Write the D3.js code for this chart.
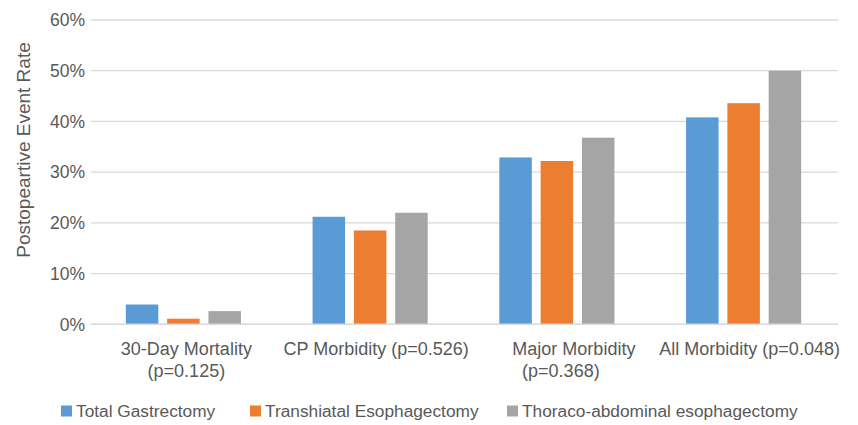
<!DOCTYPE html>
<html>
<head>
<meta charset="utf-8">
<script src="https://cdn.jsdelivr.net/npm/d3@7"></script>
<style>
  html, body { margin: 0; padding: 0; background: #fff; }
  svg { display: block; font-family: "Liberation Sans", Arial, sans-serif; }
</style>
</head>
<body>
<svg id="chart" width="858" height="425"></svg>
<script>
// ---- data ----
const categories = ["30-Day Mortality (p=0.125)", "CP Morbidity (p=0.526)", "Major Morbidity (p=0.368)", "All Morbidity (p=0.048)"];
const categoryLines = [["30-Day Mortality", "(p=0.125)"], ["CP Morbidity (p=0.526)"], ["Major Morbidity", "(p=0.368)"], ["All Morbidity (p=0.048)"]];
const seriesNames = ["Total Gastrectomy", "Transhiatal Esophagectomy", "Thoraco-abdominal esophagectomy"];
const totalGastrectomy = [3.9, 21.2, 32.9, 40.8];
const transhiatal = [1.1, 18.5, 32.2, 43.6];
const thoracoAbdominal = [2.6, 22.0, 36.8, 50.0];
const yTicks = [0, 10, 20, 30, 40, 50, 60];
const yTickLabels = ["0%", "10%", "20%", "30%", "40%", "50%", "60%"];
const yTitle = "Postopeartive Event Rate";

// ---- layout ----
const colors = ["#5b9bd5", "#ed7d31", "#a5a5a5"];
const textColor = "#595959";
const gridColor = "#d9d9d9";
const plot = { left: 91, right: 838, top: 20, bottom: 324.3 };
const labelNudge = [[2, 2], [5], [16, 3], [5]];

const svg = d3.select("#chart");
const seriesValues = [totalGastrectomy, transhiatal, thoracoAbdominal];

const x = d3.scaleBand().domain(categories).range([plot.left, plot.right]).padding(0);
const y = d3.scaleLinear().domain([0, 60]).range([plot.bottom, plot.top]);
const innerW = 115.1;
const xi = d3.scaleBand().domain(seriesNames).range([0, innerW]).paddingInner(0.213).paddingOuter(0);

// gridlines
svg.append("g").selectAll("line").data(yTicks).join("line")
  .attr("x1", plot.left).attr("x2", plot.right)
  .attr("y1", d => y(d)).attr("y2", d => y(d))
  .attr("stroke", gridColor).attr("stroke-width", 1.3);

// y tick labels
svg.append("g").selectAll("text").data(yTicks).join("text")
  .attr("x", 85).attr("y", d => y(d)).attr("dy", "0.36em")
  .attr("text-anchor", "end").attr("fill", textColor)
  .style("font-size", "17.5px")
  .text((d, i) => yTickLabels[i]);

// y title
svg.append("text")
  .attr("transform", `translate(30,150) rotate(-90)`)
  .attr("text-anchor", "middle").attr("fill", textColor)
  .style("font-size", "19px")
  .text(yTitle);

// bars
const groups = svg.append("g").selectAll("g").data(categories).join("g")
  .attr("transform", c => `translate(${x(c) + x.bandwidth() / 2 - innerW / 2 - 1},0)`);
groups.selectAll("rect").data((c, ci) => seriesNames.map((s, si) => ({ s, si, v: seriesValues[si][ci] })))
  .join("rect")
  .attr("x", d => xi(d.s)).attr("width", xi.bandwidth())
  .attr("y", d => y(d.v)).attr("height", d => y(0) - y(d.v))
  .attr("fill", d => colors[d.si]);

// baseline on top
svg.append("line").attr("x1", plot.left).attr("x2", plot.right)
  .attr("y1", y(0)).attr("y2", y(0)).attr("stroke", gridColor).attr("stroke-width", 1.5);

// x labels
const xl = svg.append("g");
categories.forEach((c, ci) => {
  categoryLines[ci].forEach((line, li) => {
    xl.append("text")
      .attr("x", x(c) + x.bandwidth() / 2 + labelNudge[ci][li])
      .attr("y", 355 + li * 21.5)
      .attr("text-anchor", "middle").attr("fill", textColor)
      .style("font-size", "18px")
      .text(line);
  });
});

// legend
const legendX = [61, 250, 507];
const lg = svg.append("g").selectAll("g").data(seriesNames).join("g")
  .attr("transform", (d, i) => `translate(${legendX[i]},411)`);
lg.append("rect").attr("x", 0).attr("y", -5.5).attr("width", 11).attr("height", 11)
  .attr("fill", (d, i) => colors[i]);
lg.append("text").attr("x", 15).attr("y", 0).attr("dy", "0.35em")
  .attr("fill", textColor).style("font-size", "17.3px")
  .text(d => d);
</script>
</body>
</html>
